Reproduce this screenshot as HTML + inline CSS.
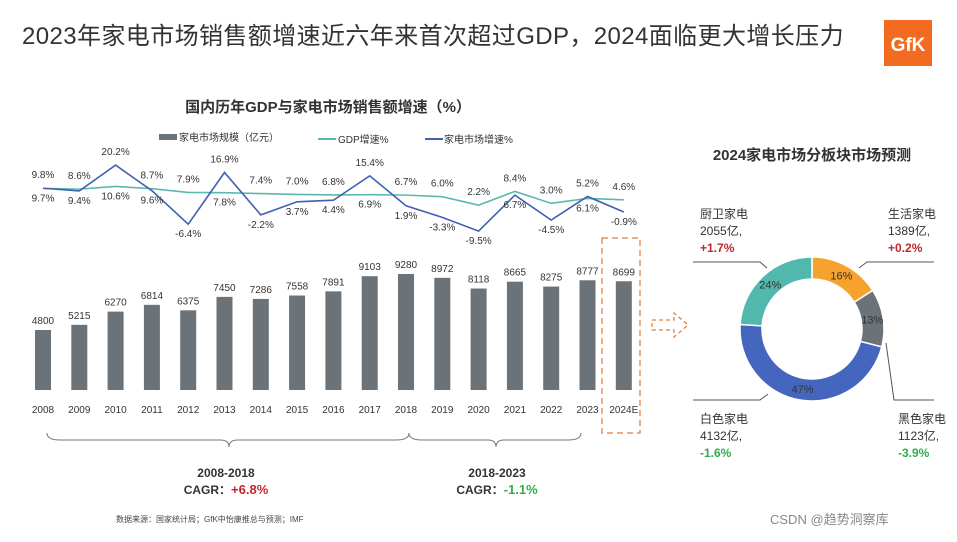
<!DOCTYPE html>
<html><head><meta charset="utf-8">
<style>
body{margin:0;width:957px;height:537px;background:#fff;overflow:hidden;font-family:"Liberation Sans","Noto Sans CJK SC",sans-serif;}
</style></head>
<body>
<svg width="957" height="537" viewBox="0 0 957 537" xmlns="http://www.w3.org/2000/svg" font-family="Liberation Sans, Noto Sans CJK SC, sans-serif">
<text x="22" y="44" font-size="24" letter-spacing="0.4" fill="#333">2023年家电市场销售额增速近六年来首次超过GDP，2024面临更大增长压力</text>
<g><rect x="884" y="20" width="48" height="46" fill="#f26b21"/><text x="908" y="51" font-size="19" fill="#fff" text-anchor="middle" font-weight="bold">GfK</text></g>
<text x="328" y="112" font-size="15" font-weight="bold" fill="#333" text-anchor="middle">国内历年GDP与家电市场销售额增速（%）</text>
<g font-size="10" fill="#333">
<rect x="159" y="134" width="18" height="6" fill="#6b7379"/><text x="179" y="141">家电市场规模（亿元）</text>
<line x1="318" y1="139" x2="336" y2="139" stroke="#5ab9ad" stroke-width="2"/><text x="338" y="143">GDP增速%</text>
<line x1="425" y1="139" x2="443" y2="139" stroke="#4060b0" stroke-width="2"/><text x="444" y="143">家电市场增速%</text>
</g>
<g id="chart"></g>
<rect x="602" y="238" width="38" height="195" fill="none" stroke="#e07a3a" stroke-width="1.2" stroke-dasharray="6,4"/>
<path d="M47 433 Q47 440 60 440 L220 440 Q229 440 229 447 Q229 440 238 440 L396 440 Q409 440 409 433" fill="none" stroke="#777" stroke-width="1"/>
<path d="M409 433 Q409 440 422 440 L488 440 Q496 440 496 447 Q496 440 504 440 L568 440 Q581 440 581 433" fill="none" stroke="#777" stroke-width="1"/>
<g font-size="12" font-weight="bold" text-anchor="middle" fill="#333">
<text x="226" y="477">2008-2018</text>
<text x="226" y="494">CAGR：<tspan fill="#c0282d" font-size="13">+6.8%</tspan></text>
<text x="497" y="477">2018-2023</text>
<text x="497" y="494">CAGR：<tspan fill="#2fae4a" font-size="13">-1.1%</tspan></text>
</g>
<text x="116" y="522" font-size="8" fill="#444">数据来源：国家统计局；GfK中怡康推总与预测；IMF</text>
<path d="M652 320 L674 320 L674 313 L688 325 L674 337 L674 330 L652 330 Z" fill="none" stroke="#e07a3a" stroke-dasharray="4,3" stroke-width="1.2"/>
<text x="812" y="160" font-size="15" font-weight="bold" fill="#333" text-anchor="middle">2024家电市场分板块市场预测</text>
<g id="donut"></g>
<g font-size="12" fill="#333">
<g><text x="700" y="218">厨卫家电</text><text x="700" y="235">2055亿,</text><text x="700" y="252" fill="#c0282d" font-weight="bold">+1.7%</text></g>
<g><text x="888" y="218">生活家电</text><text x="888" y="235">1389亿,</text><text x="888" y="252" fill="#c0282d" font-weight="bold">+0.2%</text></g>
<g><text x="700" y="423">白色家电</text><text x="700" y="440">4132亿,</text><text x="700" y="457" fill="#2fae4a" font-weight="bold">-1.6%</text></g>
<g><text x="898" y="423">黑色家电</text><text x="898" y="440">1123亿,</text><text x="898" y="457" fill="#2fae4a" font-weight="bold">-3.9%</text></g>
</g>
<g stroke="#555" stroke-width="1" fill="none">
<polyline points="693,262 760,262 767,268"/>
<polyline points="859,268 867,262 934,262"/>
<polyline points="693,400 760,400 768,394"/>
<polyline points="886,343 894,400 934,400"/>
</g>
<text x="770" y="524" font-size="13" fill="#888">CSDN @趋势洞察库</text>
</svg>
<script>
const years=["2008","2009","2010","2011","2012","2013","2014","2015","2016","2017","2018","2019","2020","2021","2022","2023","2024E"];
const sizes=[4800,5215,6270,6814,6375,7450,7286,7558,7891,9103,9280,8972,8118,8665,8275,8777,8699];
const marketGrowth=[9.8,8.6,20.2,8.7,-6.4,16.9,-2.2,3.7,4.4,15.4,1.9,-3.3,-9.5,6.7,-4.5,6.1,-0.9];
const gdpGrowth=[9.7,9.4,10.6,9.6,7.9,7.8,7.4,7.0,6.8,6.9,6.7,6.0,2.2,8.4,3.0,5.2,4.6];
const segNames=["生活家电","黑色家电","白色家电","厨卫家电"];
const segShares=[16,13,47,24];
// label placement style: 1 = market label on top row, 0 = GDP label on top row
const marketLabelOnTop=[1,1,1,1,0,1,0,0,0,1,0,0,0,0,0,0,0];
const NS="http://www.w3.org/2000/svg";
function mk(t,a,p){const e=document.createElementNS(NS,t);for(const k in a)e.setAttribute(k,a[k]);p.appendChild(e);return e;}
const g=document.getElementById('chart');
const xS=i=>43+i*36.3;
const yB=v=>390-v*0.0125;
const yG=v=>210-v*2.22;
years.forEach((y,i)=>{
 const b=mk('rect',{x:xS(i)-8,y:yB(sizes[i]),width:16,height:390-yB(sizes[i]),fill:'#6b7379'},g);
 
 
 const t=mk('text',{x:xS(i),y:yB(sizes[i])-6,'font-size':10,'text-anchor':'middle',fill:'#333'},g);t.textContent=sizes[i];
 
 
 const yl=mk('text',{x:xS(i),y:413,'font-size':10,'text-anchor':'middle',fill:'#333'},g);yl.textContent=y;
 
 
});
const gl=mk('polyline',{points:gdpGrowth.map((v,i)=>xS(i)+','+yG(v)).join(' '),fill:'none',stroke:'#5ab9ad','stroke-width':1.6},g);


const ml=mk('polyline',{points:marketGrowth.map((v,i)=>xS(i)+','+yG(v)).join(' '),fill:'none',stroke:'#4060b0','stroke-width':1.6},g);


years.forEach((y,i)=>{
 const m=marketGrowth[i],d=gdpGrowth[i];
 const top=Math.min(yG(m),yG(d))-10, bot=Math.max(yG(m),yG(d))+13;
 const mUp=marketLabelOnTop[i]===1;
 const t1=mk('text',{x:xS(i),y:mUp?top:bot,'font-size':10,'text-anchor':'middle',fill:'#333'},g);t1.textContent=m.toFixed(1)+'%';
 
 
 const t2=mk('text',{x:xS(i),y:mUp?bot:top,'font-size':10,'text-anchor':'middle',fill:'#333'},g);t2.textContent=d.toFixed(1)+'%';
 
 
});
const dg=document.getElementById('donut');
const cx=812,cy=329,R=72,r=50,cols=['#f7a22e','#6b7379','#4566bf','#52b8ad'];
let acc=0;const tot=segShares.reduce((a,b)=>a+b,0);
segShares.forEach((s,i)=>{
 const a0=acc/tot*2*Math.PI,a1=(acc+s)/tot*2*Math.PI;acc+=s;
 const P=(rad,a)=>[cx+rad*Math.sin(a),cy-rad*Math.cos(a)];
 const [x0,y0]=P(R,a0),[x1,y1]=P(R,a1),[x2,y2]=P(r,a1),[x3,y3]=P(r,a0);
 const lg=(a1-a0)>Math.PI?1:0;
 const p=mk('path',{d:`M${x0} ${y0} A${R} ${R} 0 ${lg} 1 ${x1} ${y1} L${x2} ${y2} A${r} ${r} 0 ${lg} 0 ${x3} ${y3} Z`,fill:cols[i],stroke:'#fff','stroke-width':1.5},dg);
 
 
 const am=(a0+a1)/2,[lx,ly]=P((R+r)/2,am);
 const t=mk('text',{x:lx,y:ly+4,'font-size':11,'text-anchor':'middle',fill:'#333'},dg);t.textContent=s+'%';
 
 
});
</script>
</body></html>
